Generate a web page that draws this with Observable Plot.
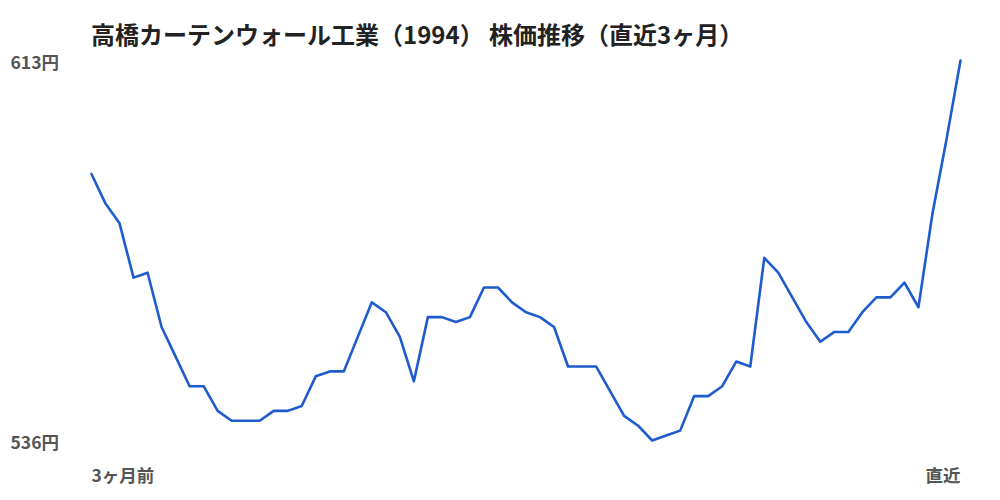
<!DOCTYPE html>
<html>
<head>
<meta charset="utf-8">
<script src="https://cdn.jsdelivr.net/npm/d3@7"></script>
<script src="https://cdn.jsdelivr.net/npm/@observablehq/plot@0.6"></script>
<style>
  html, body { margin: 0; padding: 0; background: #fff; }
  body { width: 1000px; height: 500px; overflow: hidden; font-family: "Noto Sans CJK JP", "Noto Sans", sans-serif; }
  #title { height: 40px; margin: 0; padding-left: 91px; box-sizing: border-box; font-size: 24px; font-weight: 700; color: #222; line-height: 1; padding-top: 22px; white-space: nowrap; overflow: visible; }
  #chart svg { overflow: visible; display: block; }
</style>
</head>
<body>
<div id="title">高橋カーテンウォール工業（1994） 株価推移（直近3ヶ月）</div>
<div id="chart"></div>
<script>
const titleText = "高橋カーテンウォール工業（1994） 株価推移（直近3ヶ月）";
const prices = [
  590, 584, 580, 569, 570, 559, 553, 547, 547, 542,
  540, 540, 540, 542, 542, 543, 549, 550, 550, 557,
  564, 562, 557, 548, 561, 561, 560, 561, 567, 567,
  564, 562, 561, 559, 551, 551, 551, 546, 541, 539,
  536, 537, 538, 545, 545, 547, 552, 551, 573, 570,
  565, 560, 556, 558, 558, 562, 565, 565, 568, 563,
  582, 597, 613
];
const yTicks = [536, 613];
const yUnit = "円";
const xLabels = ["3ヶ月前", "直近"];

const data = prices.map((v, i) => ({i, v}));
const n = prices.length - 1;
const fontFam = '"Noto Sans CJK JP", "Noto Sans", sans-serif';

const chart = Plot.plot({
  width: 1000,
  height: 460,
  marginTop: 20,
  marginBottom: 60,
  marginLeft: 91,
  marginRight: 40,
  style: { fontFamily: fontFam, background: "#fff", overflow: "visible" },
  x: { domain: [0, n], axis: null },
  y: { domain: [yTicks[0], yTicks[1]], axis: null },
  marks: [
    Plot.line(data, { x: "i", y: "v", stroke: "#1e5bcc", strokeWidth: 2.6, strokeLinejoin: "round" }),
    Plot.text(yTicks, { y: d => d, text: d => d + yUnit, frameAnchor: "left", dx: -81, dy: 3, textAnchor: "start",
      fill: "#555", fontSize: 17.5, fontWeight: 700 }),
    Plot.text([xLabels[0]], { x: [0], frameAnchor: "bottom", dy: 41, textAnchor: "start",
      fill: "#555", fontSize: 17.5, fontWeight: 700 }),
    Plot.text([xLabels[1]], { x: [n], frameAnchor: "bottom", dy: 41, textAnchor: "end",
      fill: "#555", fontSize: 17.5, fontWeight: 700 })
  ]
});
document.getElementById("chart").appendChild(chart);
</script>
</body>
</html>
